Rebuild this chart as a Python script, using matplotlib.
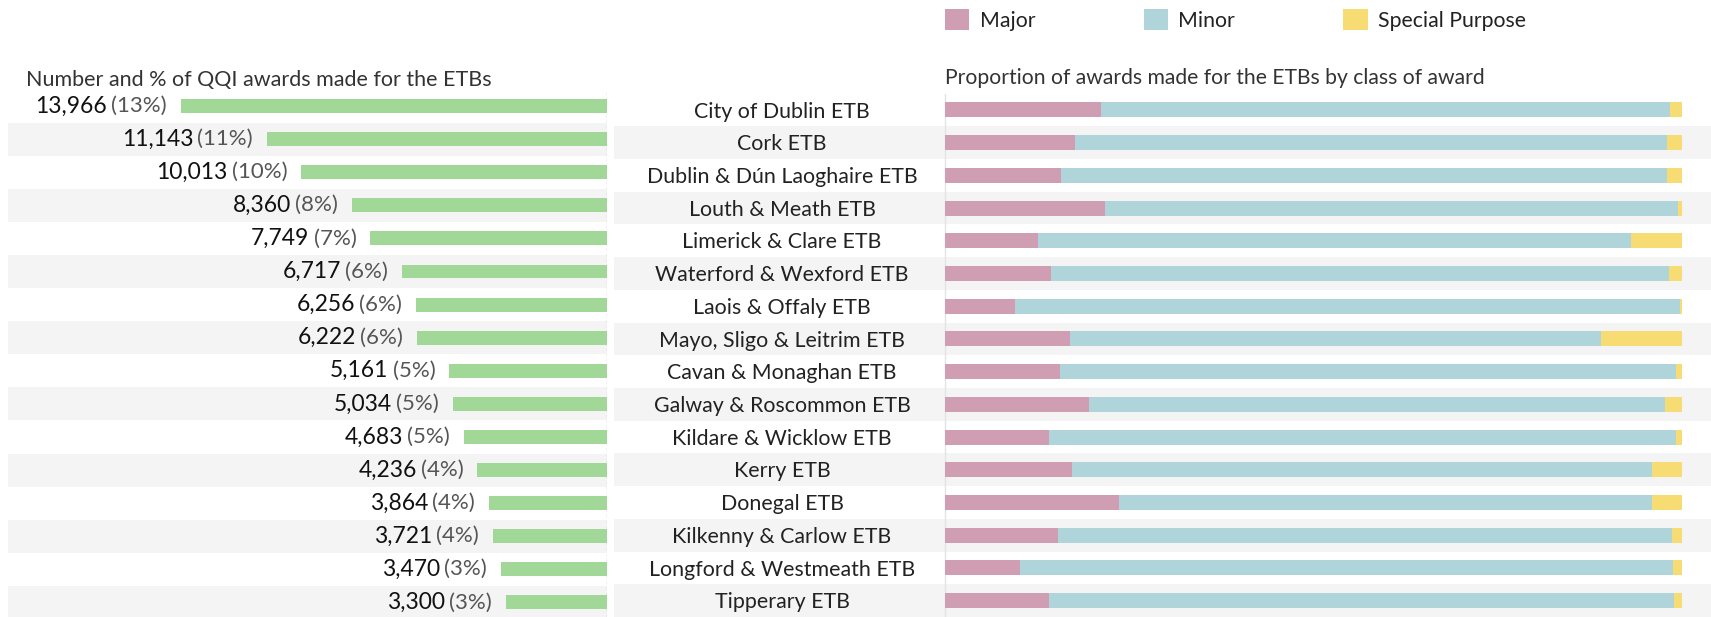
import matplotlib.pyplot as plt
from matplotlib import font_manager

# Datos del panel izquierdo
etbs = ['City of Dublin ETB', 'Cork ETB', 'Dublin & Dún Laoghaire ETB', 'Louth & Meath ETB',
        'Limerick & Clare ETB', 'Waterford & Wexford ETB', 'Laois & Offaly ETB',
        'Mayo, Sligo & Leitrim ETB', 'Cavan & Monaghan ETB', 'Galway & Roscommon ETB',
        'Kildare & Wicklow ETB', 'Kerry ETB', 'Donegal ETB', 'Kilkenny & Carlow ETB',
        'Longford & Westmeath ETB', 'Tipperary ETB']
awards = [13966, 11143, 10013, 8360, 7749, 6717, 6256, 6222,
          5161, 5034, 4683, 4236, 3864, 3721, 3470, 3300]
award_pct = [13, 11, 10, 8, 7, 6, 6, 6, 5, 5, 5, 4, 4, 4, 3, 3]

# Proporciones por clase (panel derecho)
major = [0.212, 0.177, 0.158, 0.217, 0.126, 0.144, 0.095, 0.170,
         0.156, 0.196, 0.141, 0.172, 0.236, 0.153, 0.102, 0.141]
special = [0.015, 0.020, 0.020, 0.005, 0.069, 0.017, 0.0025, 0.110,
           0.0075, 0.022, 0.0075, 0.040, 0.040, 0.013, 0.012, 0.010]
minor = [1 - a - b for a, b in zip(major, special)]

class_names = ['Major', 'Minor', 'Special Purpose']
class_colors = ['#d09eb2', '#afd4d9', '#f7dc74']

available = {f.name for f in font_manager.fontManager.ttflist}
base_font = 'Lato' if 'Lato' in available else 'DejaVu Sans'
plt.rcParams['font.family'] = [base_font, 'DejaVu Sans']

W, H = 1711, 617
fig = plt.figure(figsize=(W / 100, H / 100), dpi=100)
stripe = '#f4f4f4'
rows = list(range(len(etbs)))

# Panel izquierdo: número de premios
ax1 = fig.add_axes([8 / W, 0, 598.5 / W, (H - 89.5) / H])
for i in rows:
    if i % 2 == 1:
        ax1.axhspan(i - 0.5, i + 0.5, color=stripe, lw=0, zorder=0)
ax1.barh(rows, awards, height=0.42, color='#a1d797', zorder=2)
ax1.set_xlim(19644, 0)
ax1.set_ylim(15.44, -0.5)
ax1.axvline(0, color='#bbbbbb', lw=1, ls=(0, (2, 2)), zorder=3)
ax1.axis('off')

fig.canvas.draw()
for i, (v, p) in enumerate(zip(awards, award_pct)):
    t_pct = ax1.annotate(f'({p}%)', xy=(v, i), xytext=(-10, 0), textcoords='offset points',
                         ha='right', va='center', fontsize=16, color='#555555')
    ax1.annotate(f'{v:,}', xy=(0, 0.5), xycoords=t_pct, xytext=(-3, 0),
                 textcoords='offset points', ha='right', va='center',
                 fontsize=16.5, color='#111111')

fig.text(26 / W, 1 - 80 / H, 'Number and % of QQI awards made for the ETBs',
         fontsize=15.5, color='#333333', va='center', ha='left')

# Panel derecho: proporción por clase
ax2 = fig.add_axes([614 / W, 0, (W - 614) / W, (H - 93.6) / H])
for i in rows:
    if i % 2 == 1:
        ax2.axhspan(i - 0.5, i + 0.5, color=stripe, lw=0, zorder=0)
left = [0.0] * len(rows)
handles = []
for vals, name, col in zip([major, minor, special], class_names, class_colors):
    b = ax2.barh(rows, vals, left=left, height=0.46, color=col, label=name, zorder=2)
    handles.append(b)
    left = [l + v for l, v in zip(left, vals)]
ax2.set_xlim(-0.4494, 1.040)
ax2.set_ylim(15.5, -0.5)
ax2.axvline(0, color='#e4e4e4', lw=1, zorder=1)
ax2.axis('off')
for i, name in enumerate(etbs):
    ax2.text(-0.2213, i + 0.05, name, ha='center', va='center', fontsize=15.4, color='#222222')

fig.text(945 / W, 1 - 78 / H, 'Proportion of awards made for the ETBs by class of award',
         fontsize=15.2, color='#333333', va='center', ha='left')

fig.legend(handles=handles, labels=class_names, loc='center left',
           bbox_to_anchor=(945 / W, 1 - 20 / H), ncol=3, frameon=False,
           borderaxespad=0, borderpad=0, handlelength=1.15, handleheight=1.15,
           handletextpad=0.48, columnspacing=5.1, fontsize=15.3, labelcolor='#222222')

fig.savefig('out.png', dpi=100)
